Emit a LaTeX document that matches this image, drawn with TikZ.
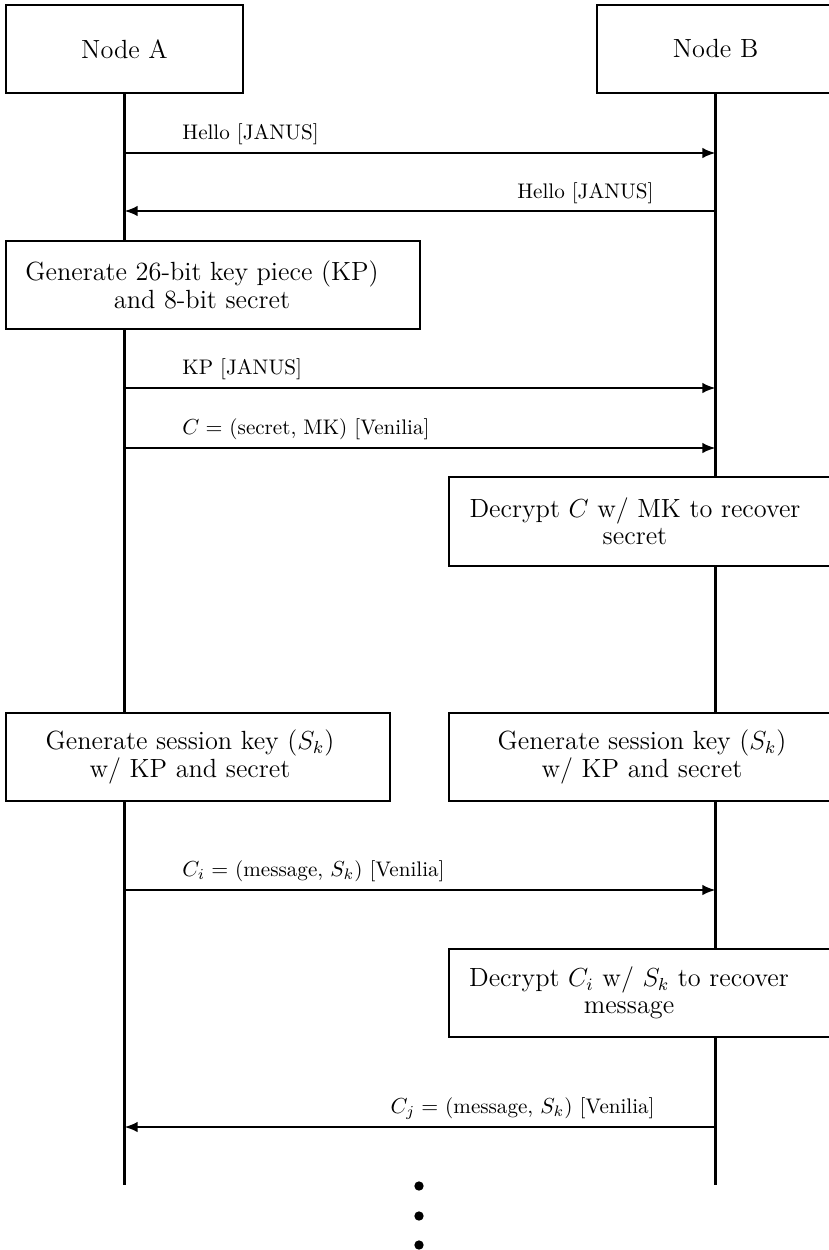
\documentclass[tikz,border=0pt]{standalone}
\usetikzlibrary{arrows.meta}
\begin{document}
\begin{tikzpicture}[x=0.46pt,y=-0.46pt,
  box/.style={draw,line width=1.05pt,inner sep=0pt,minimum height=40.48pt},
  bigfont/.style={font=\fontsize{12.1}{12.6}\selectfont},
  boxtext/.style={bigfont,align=center,inner sep=0pt},
  life/.style={line width=1.05pt},
  msg/.style={line width=0.95pt,-{Latex[length=6pt,width=4.8pt]}},
  lbl/.style={font=\fontsize{9.7}{11.6}\selectfont,inner sep=0pt},
  dotnode/.style={circle,fill,inner sep=0pt,minimum size=4.3pt}]
\useasboundingbox (0,0) rectangle (829,1250);

% participants
\node[box,bigfont,minimum width=109.02pt] (A) at (124.5,49) {Node A};
\node[box,bigfont,minimum width=109.02pt] (B) at (715.5,49) {Node B};

% boxes
\node[box,minimum width=190.44pt] (gen) at (213,285) {};
\node[boxtext] (gentext) at (202,285) {Generate 26-bit key piece (KP)\\and 8-bit secret};

\node[box,minimum width=176.64pt,minimum height=40.94pt] (decC) at (641,521.5) {};
\node[boxtext] (decCtext) at (635,521.5) {Decrypt $C$ w/ MK to recover\\secret};

\node[box,minimum width=176.64pt] (sessA) at (198,757) {};
\node[boxtext] (sessAtext) at (190,757) {Generate session key ($S_k$)\\w/ KP and secret};

\node[box,minimum width=176.64pt] (sessB) at (641,757) {};
\node[boxtext] (sessBtext) at (642,757) {Generate session key ($S_k$)\\w/ KP and secret};

\node[box,minimum width=176.64pt] (decCi) at (641,993) {};
\node[boxtext] (decCitext) at (629,993) {Decrypt $C_i$ w/ $S_k$ to recover\\message};

% lifeline ends
\coordinate (aend) at (A.south |- 0,1185);
\coordinate (bend) at (B.south |- 0,1185);

% lifelines
\draw[life] (A.south) -- (A.south |- gen.north);
\draw[life] (A.south |- gen.south) -- (A.south |- sessA.north);
\draw[life] (A.south |- sessA.south) -- (aend);
\draw[life] (B.south) -- (B.south |- decC.north);
\draw[life] (B.south |- decC.south) -- (B.south |- sessB.north);
\draw[life] (B.south |- sessB.south) -- (B.south |- decCi.north);
\draw[life] (B.south |- decCi.south) -- (bend);

% message end points
\coordinate (a1) at (A.south |- 0,153);  \coordinate (b1) at (B.south |- 0,153);
\coordinate (a2) at (A.south |- 0,211);  \coordinate (b2) at (B.south |- 0,211);
\coordinate (a3) at (A.south |- 0,388);  \coordinate (b3) at (B.south |- 0,388);
\coordinate (a4) at (A.south |- 0,448);  \coordinate (b4) at (B.south |- 0,448);
\coordinate (a5) at (A.south |- 0,890);  \coordinate (b5) at (B.south |- 0,890);
\coordinate (a6) at (A.south |- 0,1127); \coordinate (b6) at (B.south |- 0,1127);

% messages
\draw[msg] (a1) -- (b1);
\draw[msg] (b2) -- (a2);
\draw[msg] (a3) -- (b3);
\draw[msg] (a4) -- (b4);
\draw[msg] (a5) -- (b5);
\draw[msg] (b6) -- (a6);

% labels
\node[lbl,anchor=base west] (l1) at (182,139) {Hello [JANUS]};
\node[lbl,anchor=base east] (l2) at (654,198) {Hello [JANUS]};
\node[lbl,anchor=base west] (l3) at (182,374) {KP [JANUS]};
\node[lbl,anchor=base west] (l4) at (182,434) {$C =$ (secret, MK) [Venilia]};
\node[lbl,anchor=base west] (l5) at (182,876) {$C_i =$ (message, $S_k$) [Venilia]};
\node[lbl,anchor=base east] (l6) at (655,1113) {$C_j =$ (message, $S_k$) [Venilia]};

% continuation dots
\node[dotnode] (d1) at (419,1186) {};
\node[dotnode] (d2) at (419,1216) {};
\node[dotnode] (d3) at (419,1245) {};
\end{tikzpicture}
\end{document}
